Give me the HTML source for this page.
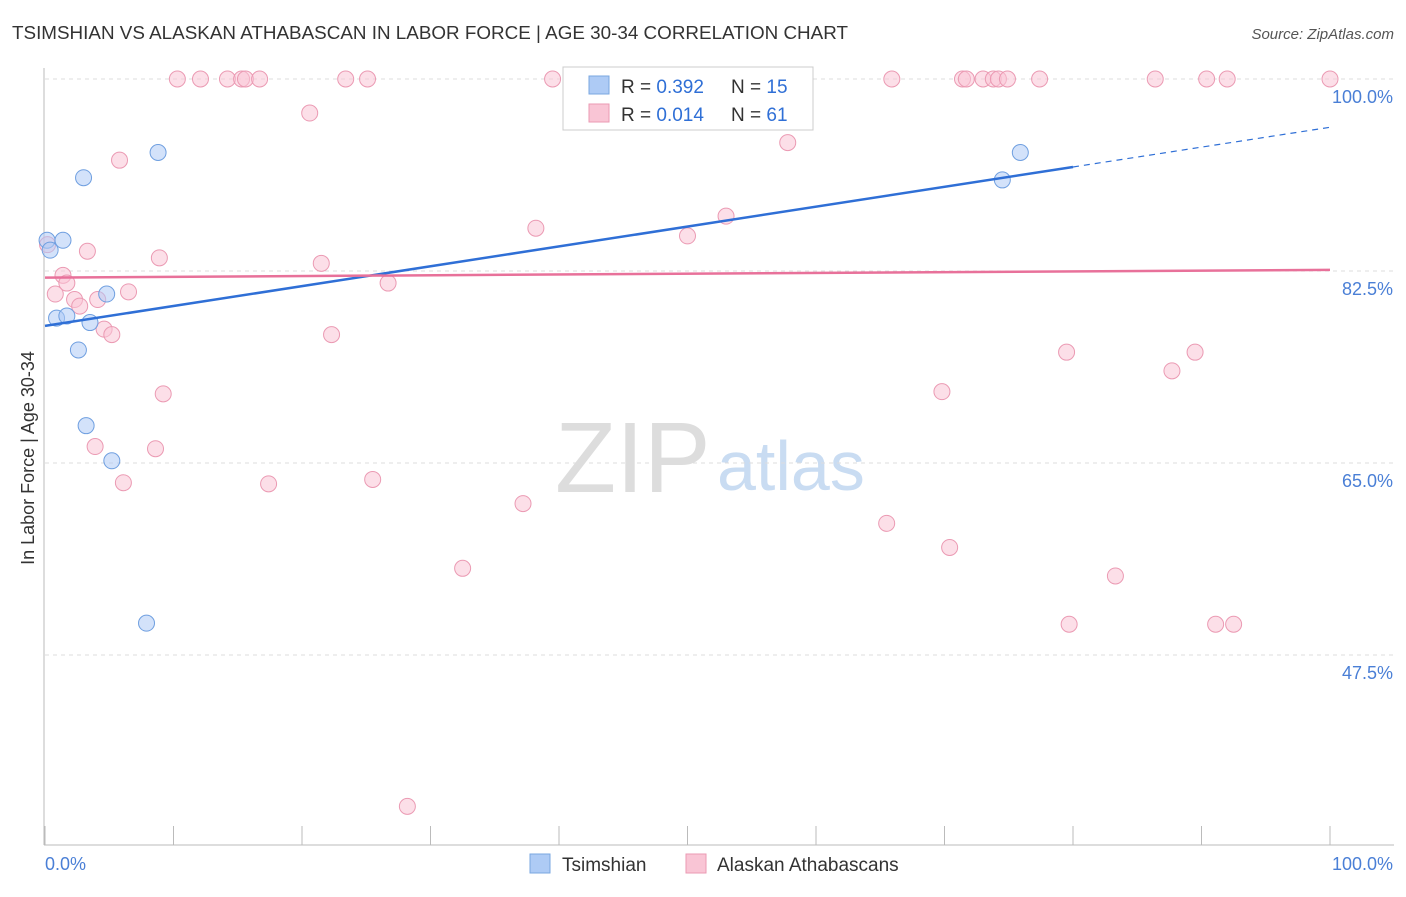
<!DOCTYPE html>
<html><head><meta charset="utf-8"><style>
body{margin:0;background:#fff;font-family:"Liberation Sans",sans-serif;}
svg text{font-family:"Liberation Sans",sans-serif;}
</style></head><body>
<svg id="chart" width="1406" height="892">
<text x="12" y="39" font-size="18" fill="#333" textLength="836" lengthAdjust="spacingAndGlyphs">TSIMSHIAN VS ALASKAN ATHABASCAN IN LABOR FORCE | AGE 30-34 CORRELATION CHART</text>
<text x="1394" y="39" font-size="15" fill="#555" text-anchor="end" font-style="italic">Source: ZipAtlas.com</text>
<text x="34" y="458" font-size="18" fill="#333" text-anchor="middle" transform="rotate(-90 34 458)">In Labor Force | Age 30-34</text>
<text x="555" y="492" font-size="100" fill="#ddd" font-family="Liberation Serif">ZIP</text>
<text x="717" y="490" font-size="70" fill="#c9dcf2">atlas</text>
<g id="grid"></g><g id="marks"></g>
<g>
<rect x="563" y="67" width="250" height="63" fill="#fff" stroke="#ccc"/>
<rect x="589" y="76" width="20" height="18" fill="#aecbf5" stroke="#7aa7e0"/>
<text x="621" y="93" font-size="19" fill="#333">R = <tspan fill="#2f6fd6">0.392</tspan></text>
<text x="731" y="93" font-size="19" fill="#333">N = <tspan fill="#2f6fd6">15</tspan></text>
<rect x="589" y="104" width="20" height="18" fill="#f9c5d5" stroke="#eb9ab3"/>
<text x="621" y="121" font-size="19" fill="#333">R = <tspan fill="#2f6fd6">0.014</tspan></text>
<text x="731" y="121" font-size="19" fill="#333">N = <tspan fill="#2f6fd6">61</tspan></text>
</g>
<g>
<rect x="530" y="854" width="20" height="19" fill="#aecbf5" stroke="#7aa7e0"/>
<text x="562" y="871" font-size="19" fill="#333">Tsimshian</text>
<rect x="686" y="854" width="20" height="19" fill="#f9c5d5" stroke="#eb9ab3"/>
<text x="717" y="871" font-size="19" fill="#333">Alaskan Athabascans</text>
</g>
<text x="45" y="870" font-size="18" fill="#4a7fd6">0.0%</text>
<text x="1393" y="870" font-size="18" fill="#4a7fd6" text-anchor="end">100.0%</text>
</svg>
<script>
const yTicks=[100,82.5,65,47.5];
const yTickLabels=["100.0%","82.5%","65.0%","47.5%"];
const blueX=[0.16,0.4,1.4,3.0,8.8,0.9,1.7,3.5,4.8,2.6,3.2,5.2,7.9,74.5,75.9];
const blueY=[85.3,84.4,85.3,91.0,93.3,78.2,78.4,77.8,80.4,75.3,68.4,65.2,50.4,90.8,93.3];
const pinkX=[10.3,12.1,14.2,15.3,15.6,16.7,23.4,25.1,39.5,65.9,71.4,71.7,73.0,73.8,74.2,74.9,77.4,86.4,90.4,92.0,100,
20.6,5.8,57.8,38.2,53.0,50.0,3.3,8.9,21.5,0.2,1.4,1.7,0.8,2.3,2.7,4.1,6.5,26.7,4.6,5.2,22.3,79.5,89.5,87.7,69.8,9.2,3.9,8.6,6.1,17.4,25.5,37.2,65.5,70.4,32.5,83.3,79.7,91.1,92.5,28.2];
const pinkY=[100,100,100,100,100,100,100,100,100,100,100,100,100,100,100,100,100,100,100,100,100,
96.9,92.6,94.2,86.4,87.5,85.7,84.3,83.7,83.2,84.9,82.1,81.4,80.4,79.9,79.3,79.9,80.6,81.4,77.2,76.7,76.7,75.1,75.1,73.4,71.5,71.3,66.5,66.3,63.2,63.1,63.5,61.3,59.5,57.3,55.4,54.7,50.3,50.3,50.3,33.7];
const blueTrend=[77.5,0.181];
const pinkTrend=[81.9,0.007];
const X=v=>45+v*12.85, Y=v=>79+(100-v)*10.971;
const NS="http://www.w3.org/2000/svg";
const grid=document.getElementById('grid'), marks=document.getElementById('marks');
function mk(tag,a,p){const e=document.createElementNS(NS,tag);for(const k in a)e.setAttribute(k,a[k]);p.appendChild(e);return e;}
yTicks.forEach((t,i)=>{
 const l=mk('line',{x1:45,x2:1394,y1:Y(t),y2:Y(t),stroke:'#ddd','stroke-dasharray':'4,4'},grid);
 
 
 const tx=mk('text',{x:1393,y:Y(t)+24,'font-size':18,fill:'#4a7fd6','text-anchor':'end'},grid);
 tx.textContent=yTickLabels[i];
 
 
});
const ax=mk('line',{x1:44,x2:44,y1:68,y2:845,stroke:'#bbb'},grid);


const bx=mk('line',{x1:44,x2:1394,y1:845,y2:845,stroke:'#bbb'},grid);


for(let i=0;i<=10;i++){const t=mk('line',{x1:X(i*10),x2:X(i*10),y1:826,y2:845,stroke:'#bbb'},grid);
 
 }
function pts(xs,ys,fill,stroke,name){xs.forEach((x,i)=>{
 const c=mk('circle',{cx:X(x),cy:Y(ys[i]),r:8,fill:fill,'fill-opacity':0.55,stroke:stroke,'stroke-width':1},marks);
 
 });}
pts(pinkX,pinkY,'#f9c5d5','#eb9ab3','athabascan-point');
pts(blueX,blueY,'#aecbf5','#6f9fe0','tsimshian-point');
const f=(tr,x)=>tr[0]+tr[1]*x;
let l1=mk('line',{x1:X(0),y1:Y(f(blueTrend,0)),x2:X(80),y2:Y(f(blueTrend,80)),stroke:'#2f6fd6','stroke-width':2.5},marks);


let l2=mk('line',{x1:X(80),y1:Y(f(blueTrend,80)),x2:X(100),y2:Y(f(blueTrend,100)),stroke:'#2f6fd6','stroke-width':1.2,'stroke-dasharray':'6,5'},marks);


let l3=mk('line',{x1:X(0),y1:Y(f(pinkTrend,0)),x2:X(100),y2:Y(f(pinkTrend,100)),stroke:'#e8719a','stroke-width':2.5},marks);


</script>
</body></html>
